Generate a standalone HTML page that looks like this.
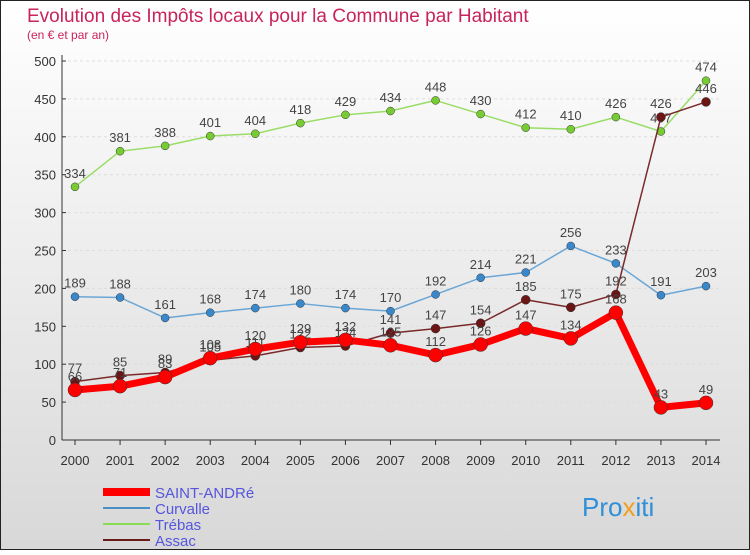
<!DOCTYPE html>
<html><head><meta charset="utf-8"><style>
body{margin:0;width:750px;height:550px;overflow:hidden;font-family:"Liberation Sans",sans-serif;}
</style></head><body>
<svg id="c" width="750" height="550" xmlns="http://www.w3.org/2000/svg">
<defs><linearGradient id="bg" x1="0" y1="0" x2="0" y2="1"><stop offset="0" stop-color="#ffffff"/><stop offset="1" stop-color="#d8d8d8"/></linearGradient></defs>
<rect x="0.5" y="0.5" width="749" height="549" fill="url(#bg)" stroke="#222"/>
<text x="27" y="22" font-size="19" fill="#c8245a">Evolution des Impôts locaux pour la Commune par Habitant</text>
<text x="27" y="39" font-size="12" fill="#c8245a">(en € et par an)</text>
<g id="axes"></g><g id="series"></g>
<g>
<line x1="103" y1="492" x2="150" y2="492" stroke="#ff0000" stroke-width="8"/>
<text x="155" y="498" font-size="15" fill="#5555dd">SAINT-ANDRé</text>
<line x1="103" y1="508" x2="150" y2="508" stroke="#4a90c8" stroke-width="2"/>
<text x="155" y="514" font-size="15" fill="#5555dd">Curvalle</text>
<line x1="103" y1="524" x2="150" y2="524" stroke="#88dd55" stroke-width="2"/>
<text x="155" y="530" font-size="15" fill="#5555dd">Trébas</text>
<line x1="103" y1="540" x2="150" y2="540" stroke="#6b1a1a" stroke-width="2"/>
<text x="155" y="546" font-size="15" fill="#5555dd">Assac</text>
</g>
<text x="582" y="516" font-size="26" fill="#2f8fd8">Pro<tspan fill="#f0a020">x</tspan>iti</text>
</svg>
<script>
const years=[2000,2001,2002,2003,2004,2005,2006,2007,2008,2009,2010,2011,2012,2013,2014];
const yTicks=[0,50,100,150,200,250,300,350,400,450,500];
const trebas=[334,381,388,401,404,418,429,434,448,430,412,410,426,407,474];
const curvalle=[189,188,161,168,174,180,174,170,192,214,221,256,233,191,203];
const assac=[77,85,89,105,111,122,124,141,147,154,185,175,192,426,446];
const saintAndre=[66,71,83,108,120,129,132,125,112,126,147,134,168,43,49];
const NS="http://www.w3.org/2000/svg";
const X=i=>75+i*(706-75)/14, Y=v=>440-v*(440-61)/500;
function mk(t,a,p){const e=document.createElementNS(NS,t);for(const k in a)e.setAttribute(k,a[k]);p.appendChild(e);return e;}
const ax=document.getElementById('axes');
yTicks.forEach(v=>{
 const l=mk('line',{x1:62,x2:720,y1:Y(v),y2:Y(v),stroke:'#dddddd','stroke-dasharray':'3,3'},ax);
 
 const t=mk('text',{x:56,y:Y(v)+5,'font-size':13,fill:'#333','text-anchor':'end'},ax);t.textContent=v;
 
 const k=mk('line',{x1:62,x2:66,y1:Y(v),y2:Y(v),stroke:'#333'},ax);
 
});
const ya=mk('line',{x1:62,x2:62,y1:55,y2:440,stroke:'#333'},ax);

const xa=mk('line',{x1:62,x2:720,y1:440,y2:440,stroke:'#333'},ax);

years.forEach((y,i)=>{
 const t=mk('text',{x:X(i),y:465,'font-size':13,fill:'#333','text-anchor':'middle'},ax);t.textContent=y;
 
 const k=mk('line',{x1:X(i),x2:X(i),y1:440,y2:445,stroke:'#333'},ax);
 
});
const sg=document.getElementById('series');
function series(name,vals,col,w,r,dot){
 const g=mk('g',{},sg);
 const p=mk('polyline',{points:vals.map((v,i)=>X(i)+','+Y(v)).join(' '),fill:'none',stroke:col,'stroke-width':w,'stroke-linejoin':'round'},g);
 
 vals.forEach((v,i)=>{
  const c=mk('circle',{cx:X(i),cy:Y(v),r:r,fill:dot,stroke:'#333','stroke-width':0.5},g);
  
  const t=mk('text',{x:X(i),y:Y(v)-9,'font-size':13,fill:'#444','text-anchor':'middle'},g);t.textContent=v;
  
 });
}
series('trebas',trebas,'#99dd66',1.5,4,'#77cc33');
series('curvalle',curvalle,'#6aa6d6',1.5,4,'#3a88cc');
series('assac',assac,'#7a2a2a',1.5,4.5,'#6b1515');
series('saint-andre',saintAndre,'#ff0000',7,7,'#ff0000');
</script>
</body></html>
